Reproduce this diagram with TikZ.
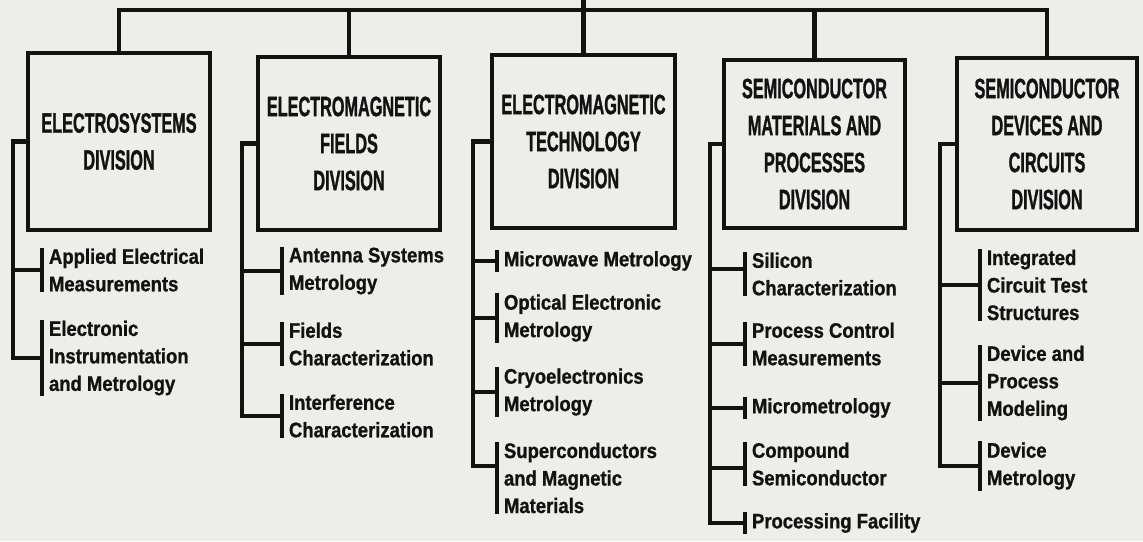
\documentclass[tikz,border=0pt]{standalone}
\usepackage{fontspec}
\setmainfont{Liberation Sans}
\newfontfamily\titlefont{Liberation Sans}[FakeStretch=0.58, FakeBold=1]
\newfontfamily\itemfont{Liberation Sans}[FakeStretch=0.88, FakeBold=1]
\definecolor{paper}{RGB}{237,237,233}
\definecolor{ink}{RGB}{18,18,18}
\tikzset{
  divbox/.style={draw=ink, line width=4pt, fill=paper, inner sep=0pt, align=center,
    text=ink, font=\titlefont\bfseries\fontsize{28}{37}\selectfont},
  sub/.style={anchor=west, align=left, inner xsep=7pt, inner ysep=1pt, outer sep=0pt,
    text=ink, font=\itemfont\bfseries\fontsize{21}{27.5}\selectfont},
  conn/.style={draw=ink, line width=4.5pt, line join=miter},
  brk/.style={draw=ink, line width=4pt},
}
\begin{document}
\begin{tikzpicture}[x=1pt,y=-1pt]
\fill[paper] (0,0) rectangle (1143,541);
\useasboundingbox (0,0) rectangle (1143,541);

% division boxes
\node[divbox, minimum width=182pt, minimum height=177pt] (b1) at (119,141.5) {ELECTROSYSTEMS\\DIVISION};
\node[divbox, minimum width=182pt, minimum height=173pt] (b2) at (349,143.5) {ELECTROMAGNETIC\\FIELDS\\DIVISION};
\node[divbox, minimum width=183pt, minimum height=173pt] (b3) at (583.5,141.5) {ELECTROMAGNETIC\\TECHNOLOGY\\DIVISION};
\node[divbox, minimum width=181pt, minimum height=168pt] (b4) at (814.5,144) {SEMICONDUCTOR\\MATERIALS AND\\PROCESSES\\DIVISION};
\node[divbox, minimum width=180pt, minimum height=172pt] (b5) at (1047,144) {SEMICONDUCTOR\\DEVICES AND\\CIRCUITS\\DIVISION};

% top bar
\coordinate (bar) at (0,10);
\coordinate (top) at (583.5,0);
\draw[conn] (b1.north) -- (b1.north |- bar) -- (b5.north |- bar) -- (b5.north);
\draw[conn] (b2.north) -- (b2.north |- bar);
\draw[conn] (b4.north) -- (b4.north |- bar);
\draw[conn] (b3.north) -- (top);

% sub-units
\node[sub] (c11) at (42,270) {Applied Electrical\\Measurements};
\node[sub] (c12) at (42,358) {Electronic\\Instrumentation\\and Metrology};

\node[sub] (c21) at (282,271) {Antenna Systems\\Metrology};
\node[sub] (c22) at (282,344) {Fields\\Characterization};
\node[sub] (c23) at (282,416) {Interference\\Characterization};

\node[sub] (c31) at (497,261) {Microwave Metrology};
\node[sub] (c32) at (497,318) {Optical Electronic\\Metrology};
\node[sub] (c33) at (497,392) {Cryoelectronics\\Metrology};
\node[sub] (c34) at (497,478) {Superconductors\\and Magnetic\\Materials};

\node[sub] (c41) at (745,274) {Silicon\\Characterization};
\node[sub] (c42) at (745,344) {Process Control\\Measurements};
\node[sub] (c43) at (745,408) {Micrometrology};
\node[sub] (c44) at (745,464) {Compound\\Semiconductor};
\node[sub] (c45) at (745,523) {Processing Facility};

\node[sub] (c51) at (980,285) {Integrated\\Circuit Test\\Structures};
\node[sub] (c52) at (980,383) {Device and\\Process\\Modeling};
\node[sub] (c53) at (980,466) {Device\\Metrology};

% brackets
\foreach \n in {c11,c12,c21,c22,c23,c31,c32,c33,c34,c41,c42,c43,c44,c45,c51,c52,c53}
  \draw[brk] (\n.north west) -- (\n.south west);

% trunks
\coordinate (t1) at (13,0);
\coordinate (t2) at (242,0);
\coordinate (t3) at (473,0);
\coordinate (t4) at (710,0);
\coordinate (t5) at (940,0);
\coordinate (k34) at ([yshift=12pt]c34.west);
\coordinate (k41) at ([yshift=5pt]c41.west);
\coordinate (k44) at ([yshift=-4pt]c44.west);

\draw[conn] (b1.west) -- (b1.west -| t1) -- (t1 |- c12.west) -- (c12.west);
\draw[conn] (t1 |- c11.west) -- (c11.west);

\draw[conn] (b2.west) -- (b2.west -| t2) -- (t2 |- c23.west) -- (c23.west);
\draw[conn] (t2 |- c21.west) -- (c21.west);
\draw[conn] (t2 |- c22.west) -- (c22.west);

\draw[conn] (b3.west) -- (b3.west -| t3) -- (t3 |- k34) -- (k34);
\draw[conn] (t3 |- c31.west) -- (c31.west);
\draw[conn] (t3 |- c32.west) -- (c32.west);
\draw[conn] (t3 |- c33.west) -- (c33.west);

\draw[conn] (b4.west) -- (b4.west -| t4) -- (t4 |- c45.west) -- (c45.west);
\draw[conn] (t4 |- k41) -- (k41);
\draw[conn] (t4 |- c42.west) -- (c42.west);
\draw[conn] (t4 |- c43.west) -- (c43.west);
\draw[conn] (t4 |- k44) -- (k44);

\draw[conn] (b5.west) -- (b5.west -| t5) -- (t5 |- c53.west) -- (c53.west);
\draw[conn] (t5 |- c51.west) -- (c51.west);
\draw[conn] (t5 |- c52.west) -- (c52.west);
\end{tikzpicture}
\end{document}
